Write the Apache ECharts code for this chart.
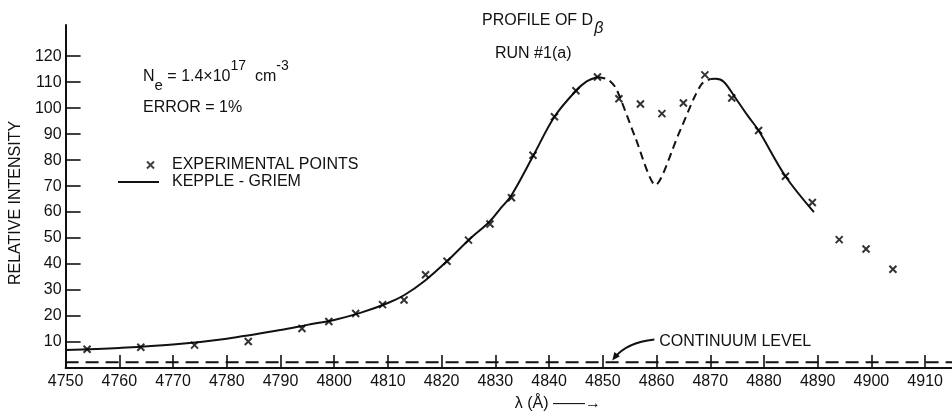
<!DOCTYPE html>
<html><head><meta charset="utf-8">
<script src="https://cdn.jsdelivr.net/npm/echarts@6/dist/echarts.min.js"></script>
<style>html,body{margin:0;padding:0;background:#fff}#c{width:952px;height:417px}</style>
</head><body><div id="c"></div>
<script>
// ---- data ----
const expLambda    = [4754, 4764, 4774, 4784, 4794, 4799, 4804, 4809, 4813, 4817, 4821, 4825, 4829, 4833, 4837, 4841, 4845, 4849, 4853, 4857, 4861, 4865, 4869, 4874, 4879, 4884, 4889, 4894, 4899, 4904];
const expIntensity = [7.2, 8.0, 8.8, 10.2, 15.2, 17.9, 21.0, 24.4, 26.2, 35.9, 41.1, 49.2, 55.4, 65.5, 81.9, 96.7, 106.7, 112.0, 103.6, 101.6, 97.9, 102.0, 112.8, 103.9, 91.4, 73.8, 63.7, 49.4, 45.8, 38.0];

const kgLeftLambda    = [4750, 4760, 4770, 4780, 4790, 4795, 4800, 4805, 4810, 4813, 4817, 4821, 4825, 4829, 4831, 4833, 4837, 4841, 4845, 4847, 4849];
const kgLeftIntensity = [6.9, 7.7, 9.0, 11.3, 14.6, 16.6, 18.5, 21.3, 25.0, 28.0, 33.8, 41.1, 49.2, 56.5, 61.5, 66.5, 81.5, 96.7, 106.7, 110.3, 112.0];

const kgDipLambda    = [4849, 4851, 4852.5, 4856, 4859.8, 4864, 4867, 4868.5, 4870];
const kgDipIntensity = [112.0, 111.0, 107.5, 89.0, 70.4, 89.5, 104.0, 109.5, 111.2];

const kgRightLambda    = [4870, 4871, 4872.5, 4874.5, 4877, 4879, 4884, 4889.3];
const kgRightIntensity = [111.2, 111.3, 110.2, 104.5, 97.0, 91.4, 73.8, 60.0];

const continuumLevel = 2.2;
const xTicks = [4750, 4760, 4770, 4780, 4790, 4800, 4810, 4820, 4830, 4840, 4850, 4860, 4870, 4880, 4890, 4900, 4910];
const yTicks = [10, 20, 30, 40, 50, 60, 70, 80, 90, 100, 110, 120];

// ---- build ----
const zip = (a, b) => a.map((v, i) => [v, b[i]]);
const FONT = 'Liberation Sans';
const INK = '#111';
const crossPath = 'path://M0,0L10,10M10,0L0,10';
const txt = (size, extra) => Object.assign({fontFamily: FONT, fontSize: size, fontWeight: 'normal', color: INK}, extra || {});

const chart = echarts.init(document.getElementById('c'), null, {renderer: 'canvas'});

const option = {
  backgroundColor: '#fff',
  animation: false,
  textStyle: {fontFamily: FONT, color: INK},
  grid: {left: 63, right: 0, top: 25, bottom: 45, containLabel: false},
  title: [
    {
      text: '{m|PROFILE OF D}{b|β}', left: 482, top: 5, padding: 0,
      textStyle: {fontWeight: 'normal', rich: {
        m: txt(16),
        b: txt(16, {fontStyle: 'italic', padding: [16, 0, 0, 1]})
      }}
    },
    {
      text: 'RUN #1(a)', left: 495, top: 46, padding: 0,
      textStyle: txt(16)
    },
    {
      text: '{m|N}{s|e}{m| = 1.4×10}{p|17}{m|  cm}{p|-3}', left: 143, top: 59, padding: 0,
      textStyle: {fontWeight: 'normal', rich: {
        m: txt(16),
        s: txt(15, {padding: [18, 0, 0, 0]}),
        p: txt(14, {padding: [0, 0, 22, 0]})
      }}
    },
    {
      text: 'ERROR = 1%', left: 143, top: 100, padding: 0,
      textStyle: txt(16)
    }
  ],
  legend: [
    {
      data: [{name: 'EXPERIMENTAL POINTS', icon: crossPath}],
      left: 146, top: 157, padding: 0, orient: 'vertical',
      itemWidth: 7, itemHeight: 7, selectedMode: false,
      itemStyle: {color: INK, borderColor: INK, borderWidth: 2},
      textStyle: txt(16, {padding: [0, 0, 0, 13]})
    },
    {
      data: ['KEPPLE - GRIEM'],
      left: 117, top: 174, padding: 0, orient: 'vertical',
      itemWidth: 41, itemHeight: 14, selectedMode: false,
      lineStyle: {color: INK, width: 2},
      itemStyle: {color: 'rgba(0,0,0,0)', borderColor: 'rgba(0,0,0,0)', borderWidth: 0, opacity: 0},
      textStyle: txt(16, {padding: [0, 0, 0, 8]})
    }
  ],
  xAxis: {
    type: 'value', min: 4750, max: 4915,
    name: 'λ (Å) ——→', nameLocation: 'middle', nameGap: 28,
    nameTextStyle: txt(16, {padding: [0, 0, 0, 98]}),
    axisLine: {show: true, onZero: false, lineStyle: {color: INK, width: 2}},
    axisTick: {show: true, inside: true, length: 13, customValues: xTicks, lineStyle: {color: INK, width: 1.6}},
    axisLabel: Object.assign(txt(16), {show: true, customValues: xTicks, margin: 6, formatter: v => String(v)}),
    splitLine: {show: false}
  },
  yAxis: {
    type: 'value', min: 0, max: 132,
    name: 'RELATIVE INTENSITY', nameLocation: 'middle', nameGap: 36,
    nameTextStyle: txt(16, {padding: [0, 13, 0, 0]}),
    axisLine: {show: true, onZero: false, lineStyle: {color: INK, width: 2}},
    axisTick: {show: true, inside: true, length: 15, customValues: yTicks, lineStyle: {color: INK, width: 1.6}},
    axisLabel: Object.assign(txt(16), {show: true, customValues: yTicks, margin: 4, formatter: v => String(v)}),
    splitLine: {show: false}
  },
  series: [
    {
      name: 'CONTINUUM LEVEL', type: 'line', symbol: 'none', silent: true, z: 1,
      data: [[4750, continuumLevel], [4915, continuumLevel]],
      lineStyle: {color: INK, width: 2, type: [13, 7]}
    },
    {
      name: 'KEPPLE - GRIEM', type: 'line', symbol: 'none', showSymbol: false, smooth: 0.35, z: 2,
      data: zip(kgLeftLambda, kgLeftIntensity),
      lineStyle: {color: INK, width: 2}, itemStyle: {color: INK}
    },
    {
      name: 'KEPPLE - GRIEM', type: 'line', symbol: 'none', showSymbol: false, smooth: 0.35, z: 2,
      data: zip(kgRightLambda, kgRightIntensity),
      lineStyle: {color: INK, width: 2}, itemStyle: {color: INK}
    },
    {
      name: 'KEPPLE - GRIEM (interpolated)', type: 'line', symbol: 'none', smooth: 0.25, z: 2,
      data: zip(kgDipLambda, kgDipIntensity),
      lineStyle: {color: INK, width: 2, type: [8, 5]}
    },
    {
      name: 'EXPERIMENTAL POINTS', type: 'scatter', symbol: crossPath, symbolSize: 7, z: 3,
      data: zip(expLambda, expIntensity),
      itemStyle: {color: '#000', borderColor: '#000', borderWidth: 2}
    }
  ]
};
chart.setOption(option);

// continuum-level annotation, anchored to data coordinates
const px = (x, y) => chart.convertToPixel({gridIndex: 0}, [x, y]);
const tPos = px(4860.5, 10.3);
const aStart = px(4859.6, 11.0);
const aCtrl = px(4854.4, 9.9);
const aEnd = px(4852.1, 3.8);
const dx = aEnd[0] - aCtrl[0], dy = aEnd[1] - aCtrl[1];
const len = Math.hypot(dx, dy), ux = dx / len, uy = dy / len;
const tip = [aEnd[0] + ux * 3, aEnd[1] + uy * 3];
const hb = [tip[0] - ux * 8, tip[1] - uy * 8];
const head = [tip, [hb[0] - uy * 3.5, hb[1] + ux * 3.5], [hb[0] + uy * 3.5, hb[1] - ux * 3.5]];
chart.setOption({
  graphic: [
    {type: 'text', x: tPos[0], y: tPos[1], style: {text: 'CONTINUUM LEVEL', font: '16px "Liberation Sans"', fill: INK, verticalAlign: 'middle', align: 'left'}},
    {type: 'bezierCurve', shape: {x1: aStart[0], y1: aStart[1], cpx1: aCtrl[0], cpy1: aCtrl[1], x2: aEnd[0], y2: aEnd[1]}, style: {stroke: INK, lineWidth: 2, fill: null}},
    {type: 'polygon', shape: {points: head}, style: {fill: INK}}
  ]
});
</script>
</body></html>
